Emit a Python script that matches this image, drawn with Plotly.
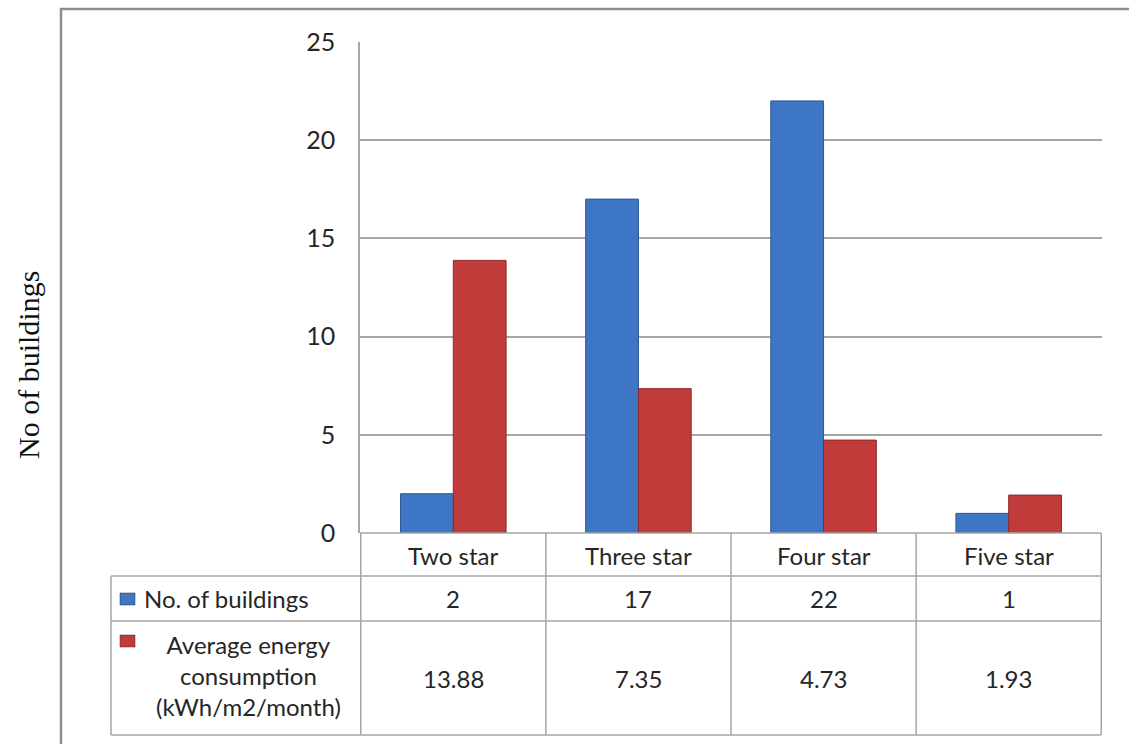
import plotly.graph_objects as go

categories = ["Two star", "Three star", "Four star", "Five star"]
buildings = [2, 17, 22, 1]
energy = [13.88, 7.35, 4.73, 1.93]
energy_labels = ["13.88", "7.35", "4.73", "1.93"]
series_names = ["No. of buildings", "Average energy<br>consumption<br>(kWh/m2/month)"]
y_title = "No of buildings"

W, H = 1129, 744
L, R, T, B = 360, 1102, 42, 533
BLUE = "#3c76c4"
RED = "#c13b3b"
GRID = "#a6a6a6"
FONT = "Lato"

def px(x):
    return (x - L) / (R - L)

def py(y):
    return (B - y) / (B - T)

fig = go.Figure()
fig.add_trace(go.Bar(x=categories, y=buildings, name="No. of buildings",
                     marker=dict(color=BLUE, line=dict(color="#2b5894", width=1))))
fig.add_trace(go.Bar(x=categories, y=energy, name="Average energy consumption",
                     marker=dict(color=RED, line=dict(color="#8e2828", width=1))))

shapes = []
line_style = dict(color=GRID, width=1.5)
# outer frame
shapes.append(dict(type="rect", xref="paper", yref="paper", x0=px(61), x1=px(1140),
                   y0=py(9), y1=py(760), line=dict(color="#8c8c8c", width=2.5)))
# table horizontal lines
shapes.append(dict(type="line", xref="paper", yref="paper", x0=px(360), x1=px(1101), y0=py(533), y1=py(533), line=line_style))
for yy in [576, 621, 735]:
    shapes.append(dict(type="line", xref="paper", yref="paper", x0=px(111), x1=px(1101), y0=py(yy), y1=py(yy), line=line_style))
# vertical lines
shapes.append(dict(type="line", xref="paper", yref="paper", x0=px(111), x1=px(111), y0=py(576), y1=py(735), line=line_style))
for k in range(len(categories) + 1):
    shapes.append(dict(type="line", xref="x", yref="paper", x0=k - 0.5, x1=k - 0.5, y0=py(533), y1=py(735), line=line_style))
# legend keys
for (y0, y1, col) in [(593, 605, BLUE), (635, 647, RED)]:
    shapes.append(dict(type="rect", xref="paper", yref="paper", x0=px(120), x1=px(135), y0=py(y1), y1=py(y0),
                       fillcolor=col, line=dict(color="#333333", width=0.5)))

annotations = []
tf = dict(family=FONT, size=24, color="#262626")
for i, c in enumerate(categories):
    annotations.append(dict(x=c, y=py(555), xref="x", yref="paper", text=c, showarrow=False, font=tf,
                            xanchor="center", yanchor="middle"))
    annotations.append(dict(x=c, y=py(598), xref="x", yref="paper", text=str(buildings[i]), showarrow=False, font=tf,
                            xanchor="center", yanchor="middle"))
    annotations.append(dict(x=c, y=py(678), xref="x", yref="paper", text=energy_labels[i], showarrow=False, font=tf,
                            xanchor="center", yanchor="middle"))
annotations.append(dict(x=px(142), y=py(598), xref="paper", yref="paper", text=series_names[0], showarrow=False,
                        font=tf, xanchor="left", yanchor="middle"))
annotations.append(dict(x=px(248), y=py(675), xref="paper", yref="paper", text=series_names[1], showarrow=False,
                        font=tf, xanchor="center", yanchor="middle", align="center"))
annotations.append(dict(x=px(28), y=py(365), xref="paper", yref="paper", text=y_title, showarrow=False,
                        textangle=-90, font=dict(family="Liberation Serif", size=30, color="#111111"),
                        xanchor="center", yanchor="middle"))

fig.update_layout(
    width=W, height=H,
    margin=dict(l=L, r=W - R, t=T, b=H - B, pad=0),
    paper_bgcolor="white", plot_bgcolor="white",
    barmode="group", bargap=0.43, bargroupgap=0,
    showlegend=False,
    shapes=shapes, annotations=annotations,
    xaxis=dict(showticklabels=False, showline=False, showgrid=False, zeroline=False, ticks=""),
    yaxis=dict(range=[0, 25], dtick=5, showgrid=True, gridcolor=GRID, gridwidth=1.5,
               showline=True, linecolor=GRID, linewidth=1.5, zeroline=False,
               ticks="outside", ticklen=18, tickcolor="rgba(0,0,0,0)",
               tickfont=dict(family=FONT, size=25, color="#262626")),
)

fig.write_html("out.html")
